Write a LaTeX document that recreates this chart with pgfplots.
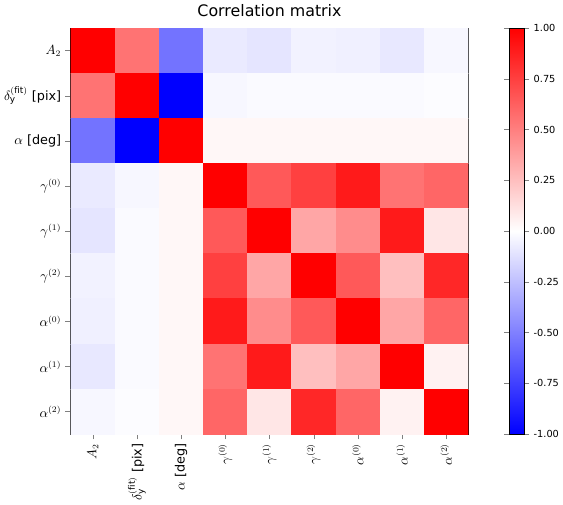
\documentclass[border=0pt]{standalone}
\usepackage{pgfplots}
\pgfplotsset{compat=1.18}
\usepackage{fontspec}
\setmainfont{DejaVu Sans}
\begin{document}
\begin{tikzpicture}[x=1bp,y=1bp]
\begin{axis}[
  scale only axis, width=325bp, height=332bp,
  font=\fontsize{9.5}{11}\selectfont,
  title={\fontsize{13}{15}\selectfont Correlation matrix},
  y dir=reverse, enlargelimits=false,
  xmin=-0.5,xmax=8.5,ymin=-0.5,ymax=8.5,
  xtick={0,...,8}, ytick={0,...,8},
  tick align=outside, tick pos=left,
  xticklabels={$A_2$,{$\delta_{\mathrm{y}}^{(\mathrm{fit})}$ [pix]},{$\alpha$ [deg]},$\gamma^{(0)}$,$\gamma^{(1)}$,$\gamma^{(2)}$,$\alpha^{(0)}$,$\alpha^{(1)}$,$\alpha^{(2)}$},
  yticklabels={$A_2$,{$\delta_{\mathrm{y}}^{(\mathrm{fit})}$ [pix]},{$\alpha$ [deg]},$\gamma^{(0)}$,$\gamma^{(1)}$,$\gamma^{(2)}$,$\alpha^{(0)}$,$\alpha^{(1)}$,$\alpha^{(2)}$},
  ticklabel style={font=\fontsize{10.5}{12}\selectfont},
  x tick label style={rotate=90,anchor=east},
  colormap={bwr}{rgb=(0,0,1) rgb=(1,1,1) rgb=(1,0,0)},
  point meta min=-1, point meta max=1,
  colorbar,
  colorbar style={width=12bp, xshift=25bp,
    ytick={-1,-0.75,-0.5,-0.25,0,0.25,0.5,0.75,1},
    tick align=outside,
    yticklabel style={font=\fontsize{8}{10}\selectfont,/pgf/number format/fixed,/pgf/number format/fixed zerofill,/pgf/number format/precision=2},
    /pgf/number format/assume math mode=true},
  /pgf/number format/assume math mode=true,
  axis line style={black},
]
\addplot[matrix plot*, mesh/cols=9, point meta=explicit] table[meta=c] {
x y c
0 0 1
1 0 0.55
2 0 -0.55
3 0 -0.08
4 0 -0.1
5 0 -0.05
6 0 -0.06
7 0 -0.09
8 0 -0.03
0 1 0.55
1 1 1
2 1 -1
3 1 -0.03
4 1 -0.02
5 1 -0.02
6 1 -0.02
7 1 -0.02
8 1 -0.01
0 2 -0.55
1 2 -1
2 2 1
3 2 0.03
4 2 0.03
5 2 0.03
6 2 0.03
7 2 0.03
8 2 0.03
0 3 -0.08
1 3 -0.03
2 3 0.03
3 3 1
4 3 0.65
5 3 0.75
6 3 0.9
7 3 0.55
8 3 0.6
0 4 -0.1
1 4 -0.02
2 4 0.03
3 4 0.65
4 4 1
5 4 0.35
6 4 0.45
7 4 0.9
8 4 0.1
0 5 -0.05
1 5 -0.02
2 5 0.03
3 5 0.75
4 5 0.35
5 5 1
6 5 0.65
7 5 0.25
8 5 0.85
0 6 -0.06
1 6 -0.02
2 6 0.03
3 6 0.9
4 6 0.45
5 6 0.65
6 6 1
7 6 0.35
8 6 0.6
0 7 -0.09
1 7 -0.02
2 7 0.03
3 7 0.55
4 7 0.9
5 7 0.25
6 7 0.35
7 7 1
8 7 0.05
0 8 -0.03
1 8 -0.01
2 8 0.03
3 8 0.6
4 8 0.1
5 8 0.85
6 8 0.6
7 8 0.05
8 8 1
};
\end{axis}
\end{tikzpicture}
\end{document}
